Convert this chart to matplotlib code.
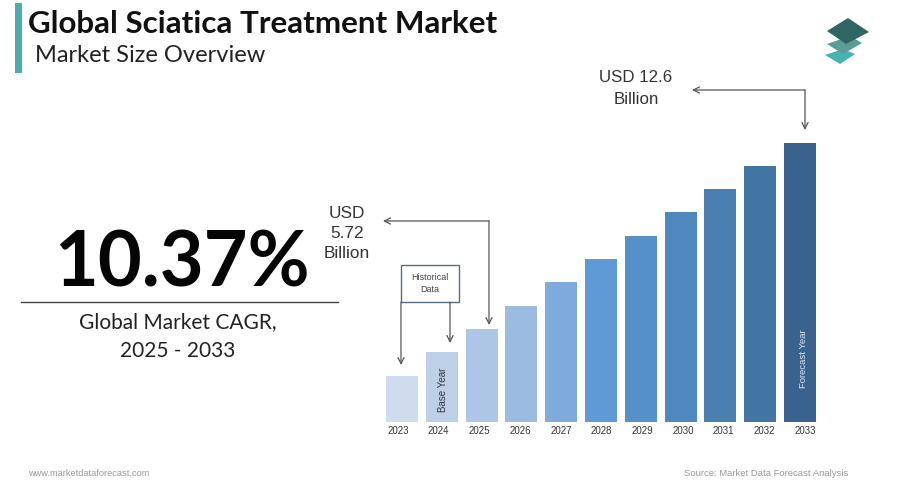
import matplotlib as mpl
mpl.use('Agg')
from matplotlib import pyplot as plt
from matplotlib.patches import Polygon, Rectangle

years = [2023, 2024, 2025, 2026, 2027, 2028, 2029, 2030, 2031, 2032, 2033]
# bar heights (the chart has no value axis)
heights = [46, 70, 93, 116, 140, 163, 186, 210, 233, 256, 279]
colors = ['#cfdcee', '#bdd0e8', '#adc6e6', '#9bbbe0', '#7fabdc', '#5f9ad6',
          '#5590c8', '#4f88bf', '#4a7fb0', '#4375a3', '#3a628e']

fig = plt.figure(figsize=(9, 4.96), dpi=100)

# overlay in pixel coords for the text and arrows
ov = fig.add_axes([0, 0, 1, 1])
ov.set_xlim(0, 900)
ov.set_ylim(496, 0)
ov.axis('off')

# bars
ax = fig.add_axes([382.1 / 900, (496 - 422) / 496, 437.8 / 900, 300 / 496])
ax.patch.set_alpha(0)
ax.bar(range(len(years)), heights, width=0.8, color=colors)
ax.set_xlim(-0.5, 10.5)
ax.set_ylim(0, 300)
for s in ax.spines.values():
    s.set_visible(False)
ax.set_yticks([])
# the year labels drift a little wider than the bars in the original
ax.set_xticks([-0.1 + 1.0226 * i for i in range(len(years))])
ax.set_xticklabels(years, fontsize=7, family='Liberation Sans', color='#333333')
ax.tick_params(axis='x', length=0, pad=3)
ax.text(1.04, 10, 'Base Year', rotation=90, ha='center', va='bottom', fontsize=7,
        family='Liberation Sans', color='#333333')
ax.text(10.08, 34, 'Forecast Year', rotation=90, ha='center', va='bottom', fontsize=6.8,
        family='Liberation Sans', color='#dfe8f2')

# header
ov.add_patch(Rectangle((15, 3), 7, 70, color='#4cabab', lw=0))
ov.text(28, 24, 'Global Sciatica Treatment Market', fontsize=22.6, fontweight='bold',
        family='Lato', color='#111111', va='center')
ov.text(35, 56, 'Market Size Overview', fontsize=17, family='Lato', color='#222222', va='center')

# logo
ov.add_patch(Polygon([[825, 55], [843, 49], [855, 54], [840, 64]], color='#45b3ae', lw=0))
ov.add_patch(Polygon([[827, 44], [850, 36], [862, 43], [843, 54]], color='#5b9c99', lw=0))
ov.add_patch(Polygon([[827, 31], [848, 18], [869, 32], [846, 44]], color='#2f6663', lw=0))

# big number
ov.text(182, 264.5, '10.37%', fontsize=54.5, fontweight='bold', family='Lato',
        color='#050505', ha='center', va='center')
ov.plot([21, 338], [302, 302], color='#444444', lw=1)
ov.text(178, 322, 'Global Market CAGR,', fontsize=15, family='Lato', color='#222222',
        ha='center', va='center')
ov.text(178, 351, '2025 - 2033', fontsize=15, family='Lato', color='#222222',
        ha='center', va='center')

# value labels
ov.text(347, 213, 'USD', fontsize=12.4, family='Liberation Sans', color='#333333', ha='center', va='center')
ov.text(347, 233, '5.72', fontsize=12.4, family='Liberation Sans', color='#333333', ha='center', va='center')
ov.text(347, 254, 'Billion', fontsize=12.4, family='Liberation Sans', color='#333333', ha='center', va='center')
ov.text(635.5, 78, 'USD 12.6', fontsize=12.2, family='Liberation Sans', color='#333333', ha='center', va='center')
ov.text(636, 99, 'Billion', fontsize=12.2, family='Liberation Sans', color='#333333', ha='center', va='center')

# historical box
ov.add_patch(Rectangle((401, 265), 58, 37, fc='white', ec='#5a6a80', lw=1))
ov.text(430, 278, 'Historical', fontsize=6.5, family='Liberation Sans', color='#444444', ha='center', va='center')
ov.text(430, 289, 'Data', fontsize=6.5, family='Liberation Sans', color='#444444', ha='center', va='center')

arrow = dict(arrowstyle='->', color='#555555', lw=0.9, shrinkA=0, shrinkB=0, mutation_scale=11)
ov.annotate('', xy=(401, 365), xytext=(401, 302), arrowprops=arrow)
ov.annotate('', xy=(450, 343), xytext=(450, 302), arrowprops=arrow)
ov.annotate('', xy=(489, 325), xytext=(489, 221), arrowprops=arrow)
ov.annotate('', xy=(383, 221), xytext=(489, 221), arrowprops=arrow)
ov.annotate('', xy=(805, 130), xytext=(805, 90), arrowprops=arrow)
ov.annotate('', xy=(692, 90), xytext=(805, 90), arrowprops=arrow)

# footer
ov.text(28, 474, 'www.marketdataforecast.com', fontsize=6.7, family='Liberation Sans',
        color='#999999', va='center')
ov.text(848, 474, 'Source: Market Data Forecast Analysis', fontsize=6.8, family='Liberation Sans',
        color='#999999', va='center', ha='right')

fig.savefig('out.png', dpi=100)
